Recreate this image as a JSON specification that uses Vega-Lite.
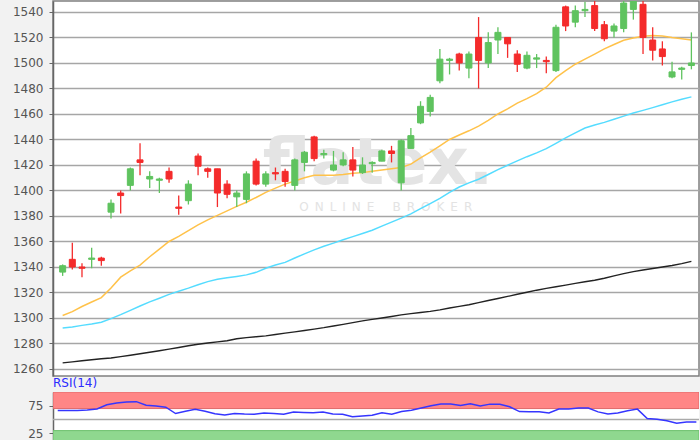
{
  "$schema": "https://vega.github.io/schema/vega-lite/v6.json",
  "background": "#f2f2f2",
  "padding": {"left": 11, "right": 1, "top": 0, "bottom": 0},
  "spacing": 0,
  "config": {
    "font": "DejaVu Sans",
    "axis": {"labelColor": "#555555", "labelFontSize": 12, "labelFont": "DejaVu Sans", "tickColor": "#666666", "tickSize": 4, "domainColor": "#666666", "domainWidth": 1.5, "labelPadding": 6, "labelOverlap": false, "format": "d"}
  },
  "datasets": {
    "d": [
      {"i":1,"o":1336,"c":1341,"h":1342,"l":1333,"m1":1302,"m2":1292.2,"m3":1264.8,"r":66.4},
      {"i":2,"o":1346,"c":1340,"h":1359,"l":1338,"m1":1305,"m2":1293,"m3":1265.6,"r":66.4},
      {"i":3,"o":1340,"c":1339,"h":1343,"l":1332,"m1":1309,"m2":1294.2,"m3":1266.5,"r":66.4},
      {"i":4,"o":1346,"c":1347,"h":1355,"l":1339,"m1":1312.5,"m2":1295.3,"m3":1267.3,"r":67.5},
      {"i":5,"o":1347,"c":1345,"h":1348,"l":1341,"m1":1316,"m2":1296.6,"m3":1268,"r":69.2},
      {"i":6,"o":1383,"c":1390,"h":1393,"l":1378,"m1":1323.5,"m2":1299.5,"m3":1268.6,"r":77},
      {"i":7,"o":1398,"c":1396,"h":1400,"l":1382,"m1":1332,"m2":1302.6,"m3":1269.7,"r":80},
      {"i":8,"o":1404,"c":1417,"h":1418,"l":1400,"m1":1337,"m2":1306,"m3":1270.8,"r":82},
      {"i":9,"o":1424,"c":1422,"h":1437,"l":1412,"m1":1341.5,"m2":1309.4,"m3":1272,"r":82.5},
      {"i":10,"o":1409,"c":1411,"h":1415,"l":1402,"m1":1348,"m2":1312.6,"m3":1273.1,"r":76},
      {"i":11,"o":1408,"c":1409,"h":1410,"l":1398,"m1":1354,"m2":1315.5,"m3":1274.3,"r":74.5},
      {"i":12,"o":1415,"c":1409,"h":1418,"l":1406,"m1":1360,"m2":1318.5,"m3":1275.6,"r":72.5},
      {"i":13,"o":1387,"c":1386,"h":1396,"l":1381,"m1":1364,"m2":1321,"m3":1276.9,"r":61},
      {"i":14,"o":1392,"c":1405,"h":1408,"l":1389,"m1":1368.5,"m2":1323.4,"m3":1278.2,"r":65},
      {"i":15,"o":1427,"c":1419,"h":1429,"l":1412,"m1":1373,"m2":1326,"m3":1279.4,"r":68.5},
      {"i":16,"o":1417,"c":1415,"h":1418,"l":1410,"m1":1377,"m2":1328.5,"m3":1280.4,"r":65},
      {"i":17,"o":1417,"c":1398,"h":1417,"l":1387,"m1":1380.5,"m2":1330.3,"m3":1281.3,"r":60.5},
      {"i":18,"o":1405,"c":1397,"h":1408,"l":1394,"m1":1384,"m2":1331.5,"m3":1282.1,"r":58.5},
      {"i":19,"o":1395,"c":1398,"h":1400,"l":1387,"m1":1387.5,"m2":1332.6,"m3":1283.7,"r":61},
      {"i":20,"o":1393,"c":1413,"h":1415,"l":1390,"m1":1390.8,"m2":1333.8,"m3":1284.6,"r":60},
      {"i":21,"o":1423,"c":1405,"h":1425,"l":1404,"m1":1394.5,"m2":1335.8,"m3":1285.3,"r":59.5},
      {"i":22,"o":1405,"c":1413,"h":1415,"l":1403,"m1":1398.5,"m2":1339,"m3":1286,"r":62},
      {"i":23,"o":1414,"c":1413,"h":1418,"l":1408,"m1":1401.8,"m2":1341.5,"m3":1287,"r":61},
      {"i":24,"o":1415,"c":1407,"h":1417,"l":1403,"m1":1405,"m2":1343.6,"m3":1288.1,"r":59.7},
      {"i":25,"o":1404,"c":1424,"h":1425,"l":1400,"m1":1407.5,"m2":1347,"m3":1289.1,"r":63.8},
      {"i":26,"o":1422,"c":1430,"h":1431,"l":1415,"m1":1410,"m2":1350.3,"m3":1290.2,"r":63},
      {"i":27,"o":1442,"c":1425,"h":1443,"l":1423,"m1":1412,"m2":1353.4,"m3":1291.3,"r":62.5},
      {"i":28,"o":1428,"c":1429,"h":1432,"l":1425,"m1":1412,"m2":1356.2,"m3":1292.4,"r":63.6},
      {"i":29,"o":1416,"c":1420,"h":1431,"l":1415,"m1":1412,"m2":1358.7,"m3":1293.7,"r":60},
      {"i":30,"o":1420,"c":1424,"h":1430,"l":1419,"m1":1412.5,"m2":1361.3,"m3":1295,"r":59.7},
      {"i":31,"o":1424,"c":1416,"h":1434,"l":1411,"m1":1413.5,"m2":1363.8,"m3":1296.4,"r":55},
      {"i":32,"o":1414,"c":1420,"h":1426,"l":1413,"m1":1414,"m2":1366.3,"m3":1297.7,"r":56.5},
      {"i":33,"o":1421,"c":1422,"h":1423,"l":1414,"m1":1415,"m2":1368.8,"m3":1298.9,"r":58},
      {"i":34,"o":1423,"c":1431,"h":1432,"l":1423,"m1":1416,"m2":1372,"m3":1300,"r":62.5},
      {"i":35,"o":1431,"c":1429,"h":1435,"l":1422,"m1":1417,"m2":1375.2,"m3":1301.2,"r":59.8},
      {"i":36,"o":1406,"c":1439,"h":1440,"l":1400,"m1":1418,"m2":1378.3,"m3":1302.4,"r":64.5},
      {"i":37,"o":1433,"c":1443,"h":1449,"l":1433,"m1":1420.7,"m2":1381.7,"m3":1303.4,"r":67},
      {"i":38,"o":1453,"c":1466,"h":1470,"l":1452,"m1":1425.5,"m2":1385.7,"m3":1304.3,"r":71},
      {"i":39,"o":1462,"c":1473,"h":1475,"l":1458,"m1":1430,"m2":1389.7,"m3":1305.2,"r":75},
      {"i":40,"o":1486,"c":1503,"h":1511,"l":1484,"m1":1435,"m2":1393.8,"m3":1306.4,"r":78.3},
      {"i":41,"o":1502,"c":1503,"h":1504,"l":1491,"m1":1440,"m2":1398.5,"m3":1307.8,"r":78.3},
      {"i":42,"o":1507,"c":1500,"h":1508,"l":1494,"m1":1443.5,"m2":1402.7,"m3":1309.1,"r":75.5},
      {"i":43,"o":1496,"c":1507,"h":1509,"l":1488,"m1":1446.8,"m2":1406,"m3":1310.4,"r":78.5},
      {"i":44,"o":1520,"c":1502,"h":1536,"l":1480,"m1":1450.5,"m2":1408.8,"m3":1312,"r":74.5},
      {"i":45,"o":1500,"c":1516,"h":1524,"l":1496,"m1":1455,"m2":1412.5,"m3":1313.7,"r":78},
      {"i":46,"o":1518,"c":1524,"h":1528,"l":1507,"m1":1460,"m2":1416.3,"m3":1315.3,"r":77.9},
      {"i":47,"o":1520,"c":1515,"h":1520,"l":1504,"m1":1464,"m2":1419.8,"m3":1316.9,"r":73.3},
      {"i":48,"o":1507,"c":1499,"h":1510,"l":1493,"m1":1468.5,"m2":1423.2,"m3":1318.6,"r":64.5},
      {"i":49,"o":1496,"c":1506,"h":1509,"l":1495,"m1":1472,"m2":1426.5,"m3":1320.2,"r":64.3},
      {"i":50,"o":1503,"c":1504,"h":1507,"l":1496,"m1":1476,"m2":1429.5,"m3":1321.8,"r":64},
      {"i":51,"o":1502,"c":1501,"h":1505,"l":1492,"m1":1481,"m2":1432.8,"m3":1323.2,"r":62},
      {"i":52,"o":1494,"c":1528,"h":1530,"l":1493,"m1":1488.5,"m2":1437,"m3":1324.5,"r":69},
      {"i":53,"o":1544,"c":1529,"h":1545,"l":1525,"m1":1494,"m2":1441.2,"m3":1325.8,"r":69.3},
      {"i":54,"o":1532,"c":1541,"h":1545,"l":1528,"m1":1499,"m2":1445.2,"m3":1327.1,"r":71},
      {"i":55,"o":1541,"c":1542,"h":1548,"l":1536,"m1":1503,"m2":1449,"m3":1328.4,"r":71},
      {"i":56,"o":1545,"c":1527,"h":1549,"l":1525,"m1":1507,"m2":1451.3,"m3":1329.6,"r":64},
      {"i":57,"o":1530,"c":1519,"h":1533,"l":1517,"m1":1511,"m2":1453.4,"m3":1331.2,"r":60},
      {"i":58,"o":1525,"c":1529,"h":1531,"l":1520,"m1":1514.5,"m2":1455.8,"m3":1333,"r":62},
      {"i":59,"o":1527,"c":1547,"h":1549,"l":1524,"m1":1517.8,"m2":1458.3,"m3":1334.8,"r":66},
      {"i":60,"o":1542,"c":1549,"h":1551,"l":1534,"m1":1519.5,"m2":1460.7,"m3":1336.4,"r":69},
      {"i":61,"o":1546,"c":1520,"h":1550,"l":1507,"m1":1521,"m2":1462.8,"m3":1337.6,"r":52},
      {"i":62,"o":1518,"c":1510,"h":1528,"l":1502,"m1":1521.6,"m2":1465,"m3":1338.8,"r":50.5},
      {"i":63,"o":1511,"c":1505,"h":1517,"l":1498,"m1":1521.2,"m2":1467.3,"m3":1340,"r":48},
      {"i":64,"o":1489,"c":1493,"h":1501,"l":1488,"m1":1520,"m2":1469.5,"m3":1341.2,"r":43.5},
      {"i":65,"o":1495,"c":1496,"h":1497,"l":1487,"m1":1519,"m2":1471.5,"m3":1342.6,"r":45.8},
      {"i":66,"o":1498,"c":1500,"h":1524,"l":1495,"m1":1518,"m2":1473.4,"m3":1344.4,"r":45.8}
    ],
    "wm": [
      {"t": "flatex.", "x": 33.6, "y": 1405},
      {"t": "O\u2002N\u2002L\u2002I\u2002N\u2002E\u2002\u2002\u2002B\u2002R\u2002O\u2002K\u2002E\u2002R", "x": 34.4, "y": 1387}
    ]
  },
  "vconcat": [
    {
      "width": 646,
      "height": 375,
      "view": {"fill": "white", "stroke": "#808080", "strokeWidth": 1.5},
      "data": {"name": "d"},
      "encoding": {
        "x": {"field": "i", "type": "quantitative", "scale": {"domain": [0.52, 66.27], "nice": false, "zero": false}, "axis": null}
      },
      "layer": [
        {
          "data": {"name": "wm"},
          "transform": [{"filter": "datum.t == 'flatex.'"}],
          "mark": {"type": "text", "font": "DejaVu Sans", "fontWeight": "bold", "fontSize": 64, "color": "#e4e4e4", "baseline": "alphabetic", "align": "center"},
          "encoding": {
            "x": {"field": "x", "type": "quantitative"},
            "y": {"field": "y", "type": "quantitative", "title": null,
              "scale": {"domain": [1254.5, 1548.6], "nice": false, "zero": false},
              "axis": {"values": [1260,1280,1300,1320,1340,1360,1380,1400,1420,1440,1460,1480,1500,1520,1540], "tickCount": 30, "grid": true, "gridColor": "#a6a6a6", "gridWidth": 1.3, "title": null, "labelOverlap": false, "format": "d"}},
            "text": {"field": "t"}
          }
        },
        {
          "data": {"name": "wm"},
          "transform": [{"filter": "datum.t != 'flatex.'"}],
          "mark": {"type": "text", "font": "DejaVu Sans", "fontSize": 12, "color": "#e3e3e3", "baseline": "middle", "align": "center"},
          "encoding": {
            "x": {"field": "x", "type": "quantitative"},
            "y": {"field": "y", "type": "quantitative", "title": null},
            "text": {"field": "t"}
          }
        },
        {
          "mark": {"type": "line", "color": "#222222", "strokeWidth": 1.4, "clip": true},
          "encoding": {"y": {"field": "m3", "type": "quantitative", "title": null}}
        },
        {
          "mark": {"type": "line", "color": "#55dcff", "strokeWidth": 1.5, "clip": true},
          "encoding": {"y": {"field": "m2", "type": "quantitative", "title": null}}
        },
        {
          "mark": {"type": "line", "color": "#ffc24a", "strokeWidth": 1.5, "clip": true},
          "encoding": {"y": {"field": "m1", "type": "quantitative", "title": null}}
        },
        {
          "mark": {"type": "rule", "strokeWidth": 1.3, "clip": true},
          "encoding": {
            "y": {"field": "l", "type": "quantitative", "title": null},
            "y2": {"field": "h"},
            "color": {"condition": {"test": "datum.c >= datum.o", "value": "#5fc35f"}, "value": "#f42b2b"}
          }
        },
        {
          "mark": {"type": "bar", "size": 6, "strokeWidth": 1, "clip": true},
          "encoding": {
            "y": {"field": "o", "type": "quantitative", "title": null},
            "y2": {"field": "c"},
            "color": {"condition": {"test": "datum.c >= datum.o", "value": "#5fc35f"}, "value": "#f42b2b"},
            "stroke": {"condition": {"test": "datum.c >= datum.o", "value": "#5fc35f"}, "value": "#f42b2b"}
          }
        }
      ]
    },
    {
      "width": 646,
      "height": 48,
      "title": {"text": "RSI(14)", "anchor": "start", "frame": "group", "color": "#2b2bff", "fontSize": 12, "fontWeight": "normal", "font": "DejaVu Sans", "offset": 2},
      "view": {"fill": "white", "stroke": null},
      "layer": [
        {
          "data": {"values": [{"a": 70, "b": 100}]},
          "mark": {"type": "rect", "fill": "#ff8686", "stroke": "#e06a6a", "strokeWidth": 1, "clip": true},
          "encoding": {
            "y": {"field": "a", "type": "quantitative", "title": null,
              "scale": {"domain": [13, 100], "nice": false, "zero": false},
              "axis": {"values": [25, 75], "tickCount": 10, "grid": false, "title": null}},
            "y2": {"field": "b"}
          }
        },
        {
          "data": {"values": [{"a": 0, "b": 30}]},
          "mark": {"type": "rect", "fill": "#8fd88f", "stroke": "#6cc06c", "strokeWidth": 1, "clip": true},
          "encoding": {
            "y": {"field": "a", "type": "quantitative", "title": null},
            "y2": {"field": "b"}
          }
        },
        {
          "data": {"values": [{"v": 50}]},
          "mark": {"type": "rule", "color": "#aaaaaa", "strokeWidth": 1.5},
          "encoding": {"y": {"field": "v", "type": "quantitative", "title": null}}
        },
        {
          "data": {"name": "d"},
          "mark": {"type": "line", "color": "#3535ff", "strokeWidth": 1.5, "clip": true},
          "encoding": {
            "x": {"field": "i", "type": "quantitative", "scale": {"domain": [0.52, 66.27], "nice": false, "zero": false}, "axis": null},
            "y": {"field": "r", "type": "quantitative", "title": null}
          }
        }
      ]
    }
  ]
}
